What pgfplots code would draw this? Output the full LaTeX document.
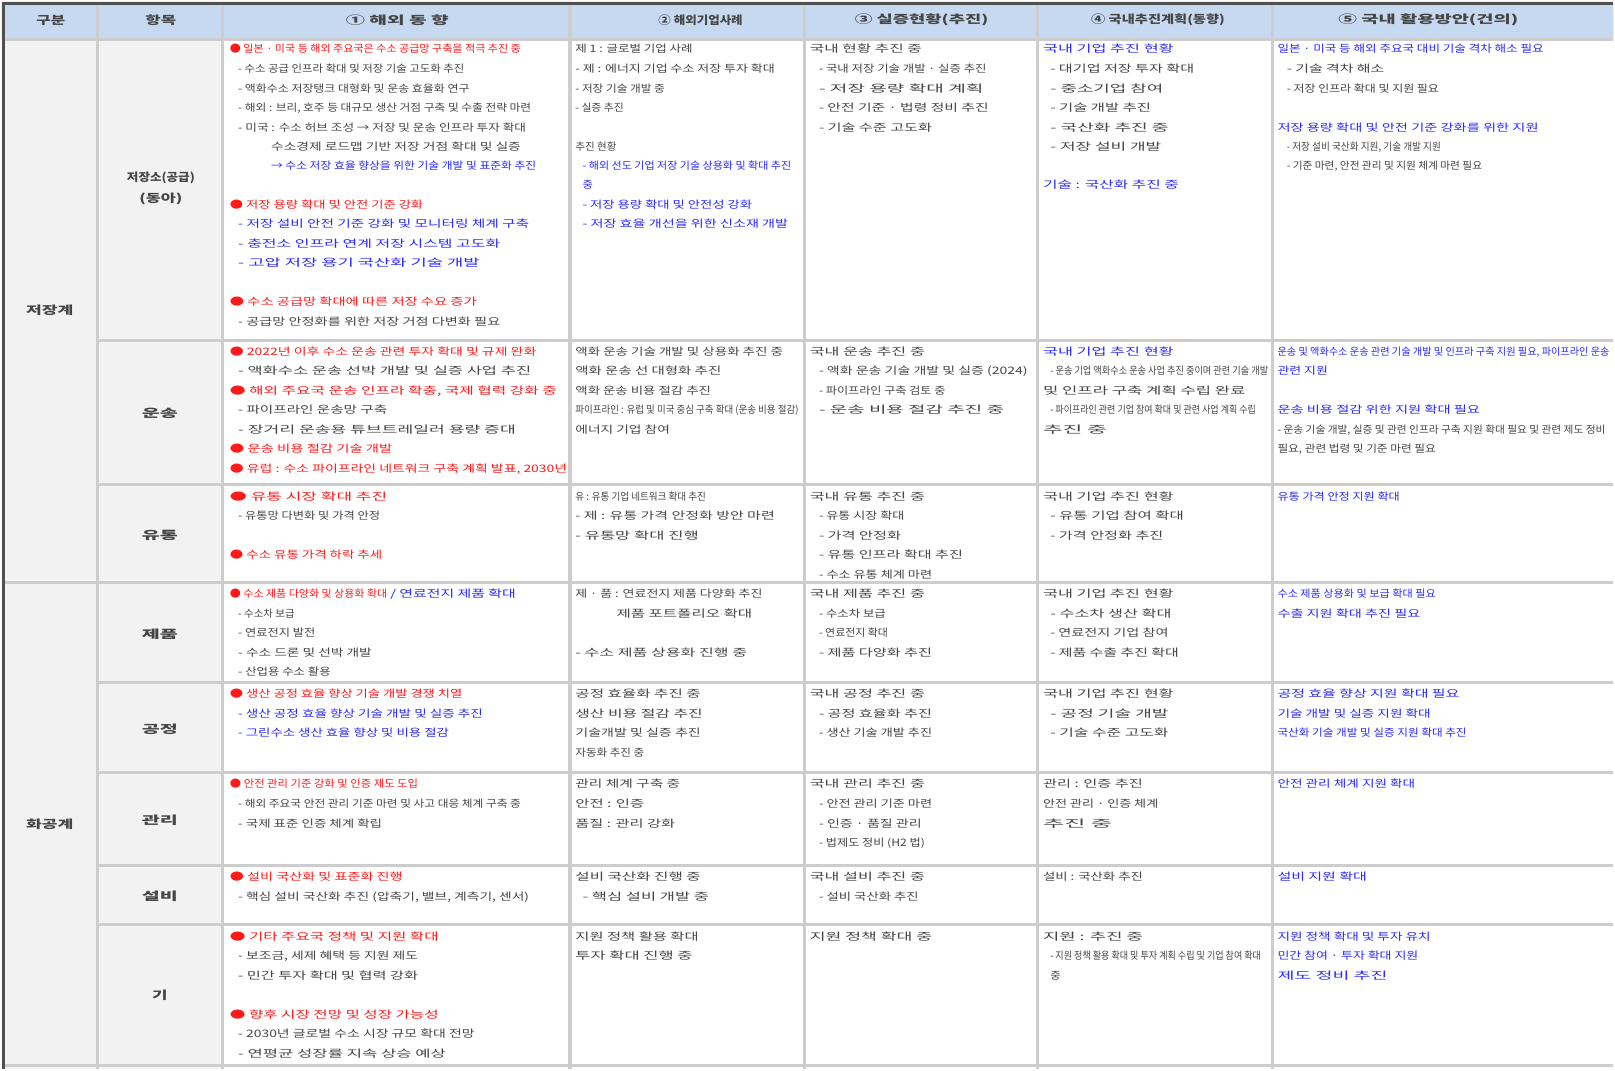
\documentclass[border=0pt]{standalone}
\usepackage{fontspec}
\setmainfont{Noto Sans CJK KR}
\usepackage{graphicx}
\usepackage{pgfplots}
\pgfplotsset{compat=1.18}
\definecolor{hdr}{HTML}{C6D9F1}
\definecolor{side}{HTML}{F2F2F2}
\definecolor{gridc}{HTML}{CDCDCD}
\definecolor{tx}{HTML}{454545}
\definecolor{rd}{HTML}{FF1A1A}
\definecolor{bl}{HTML}{2A2AFF}
\definecolor{bdr}{HTML}{505050}
% text line: x1, y, x2, colour, text
\newcommand\T[5]{\node[anchor=west,inner sep=0pt,text=#4,text height=8pt,text depth=2pt,font=\fontsize{10}{12}\selectfont] at (axis cs:#1,#2) {\resizebox{\dimexpr #3pt-#1pt\relax}{\height}{#5}};}
% centred bold label: xc, y, width, colour, text
\newcommand\C[5]{\node[anchor=center,inner sep=0pt,text=#4,font=\fontsize{11}{13}\selectfont\bfseries] at (axis cs:#1,#2) {\resizebox{#3pt}{\height}{#5}};}
\newcommand\HL[3]{\addplot[gridc,line width=3pt] coordinates {(#1,#3) (#2,#3)};}
\newcommand\VL[3]{\addplot[gridc,line width=3pt] coordinates {(#1,#2) (#1,#3)};}
\newcommand\BOX[5]{\addplot[fill=#5,draw=none] coordinates {(#1,#2) (#3,#2) (#3,#4) (#1,#4) (#1,#2)};}
\begin{document}
\begin{tikzpicture}
\begin{axis}[width=1568pt,height=1038pt,scale only axis,hide axis,
  xmin=0,xmax=1568,ymin=0,ymax=1038,y dir=reverse,clip=false,enlargelimits=false]
% backgrounds
\BOX{0}{0}{1568}{1038}{white}
\BOX{0}{0}{1568}{37}{hdr}
\BOX{0}{37}{215}{1038}{side}
% grid lines
\VL{93}{0}{1038}
\VL{215}{0}{1038}
\VL{553}{0}{1038}
\VL{781}{0}{1038}
\VL{1008}{0}{1038}
\VL{1236}{0}{1038}
\HL{0}{1568}{37}
\HL{93}{1568}{330}
\HL{93}{1568}{470}
\HL{0}{1568}{565}
\HL{93}{1568}{662}
\HL{93}{1568}{750}
\HL{93}{1568}{840}
\HL{93}{1568}{898}
\HL{0}{1568}{1035}
\addplot[bdr,line width=3pt] coordinates {(1.5,1038) (1.5,1.5) (1568,1.5)};
% header
\C{48}{18}{28}{tx}{구분}
\C{155}{18}{30}{tx}{항목}
\C{385}{18}{100}{tx}{① 해외 동 향}
\C{680}{18}{82}{tx}{② 해외기업사례}
\C{895}{18}{130}{tx}{③ 실증현황(추진)}
\C{1125}{18}{130}{tx}{④ 국내추진계획(동향)}
\C{1388}{18}{175}{tx}{⑤ 국내 활용방안(건의)}
% side labels
\C{47}{300}{46}{tx}{저장계}
\C{47}{800}{46}{tx}{화공계}
\C{155}{172}{66}{tx}{저장소(공급)}
\C{155}{192}{42}{tx}{(동아)}
\C{154}{401}{35}{tx}{운송}
\C{154}{519}{35}{tx}{유통}
\C{154}{615}{35}{tx}{제품}
\C{154}{708}{35}{tx}{공정}
\C{154}{796}{35}{tx}{관리}
\C{154}{870}{35}{tx}{설비}
\C{154}{967}{15}{tx}{기}
% ---------------- column 3
\T{222}{47}{505}{rd}{● 일본 · 미국 등 해외 주요국은 수소 공급망 구축을 적극 추진 중}
\T{230}{66}{450}{tx}{- 수소 공급 인프라 확대 및 저장 기술 고도화 추진}
\T{230}{85}{455}{tx}{- 액화수소 저장탱크 대형화 및 운송 효율화 연구}
\T{230}{104}{515}{tx}{- 해외 : 브리, 호주 등 대규모 생산 거점 구축 및 수출 전략 마련}
\T{230}{123}{510}{tx}{- 미국 : 수소 허브 조성 → 저장 및 운송 인프라 투자 확대}
\T{262}{142}{505}{tx}{수소경제 로드맵 기반 저장 거점 확대 및 실증}
\T{262}{160}{520}{bl}{→ 수소 저장 효율 향상을 위한 기술 개발 및 표준화 추진}
\T{222}{198}{410}{rd}{● 저장 용량 확대 및 안전 기준 강화}
\T{230}{217}{513}{bl}{- 저장 설비 안전 기준 강화 및 모니터링 체계 구축}
\T{230}{236}{485}{bl}{- 충전소 인프라 연계 저장 시스템 고도화}
\T{230}{255}{465}{bl}{- 고압 저장 용기 국산화 기술 개발}
\T{222}{293}{462}{rd}{● 수소 공급망 확대에 따른 저장 수요 증가}
\T{230}{312}{485}{tx}{- 공급망 안정화를 위한 저장 거점 다변화 필요}
\T{222}{341}{520}{rd}{● 2022년 이후 수소 운송 관련 투자 확대 및 규제 완화}
\T{230}{360}{515}{tx}{- 액화수소 운송 선박 개발 및 실증 사업 추진}
\T{222}{379}{540}{rd}{● 해외 주요국 운송 인프라 확충, 국제 협력 강화 중}
\T{230}{398}{375}{tx}{- 파이프라인 운송망 구축}
\T{230}{417}{500}{tx}{- 장거리 운송용 튜브트레일러 용량 증대}
\T{222}{436}{380}{rd}{● 운송 비용 절감 기술 개발}
\T{222}{455}{550}{rd}{● 유럽 : 수소 파이프라인 네트워크 구축 계획 발표, 2030년}
\T{222}{482}{375}{rd}{● 유통 시장 확대 추진}
\T{230}{501}{368}{tx}{- 유통망 다변화 및 가격 안정}
\T{222}{539}{370}{rd}{● 수소 유통 가격 하락 추세}
\T{222}{577}{375}{rd}{● 수소 제품 다양화 및 상용화 확대}
\T{378}{577}{500}{bl}{/ 연료전지 제품 확대}
\T{230}{596}{285}{tx}{- 수소차 보급}
\T{230}{615}{305}{tx}{- 연료전지 발전}
\T{230}{634}{360}{tx}{- 수소 드론 및 선박 개발}
\T{230}{653}{320}{tx}{- 산업용 수소 활용}
\T{222}{674}{448}{rd}{● 생산 공정 효율 향상 기술 개발 경쟁 치열}
\T{230}{693}{468}{bl}{- 생산 공정 효율 향상 기술 개발 및 실증 추진}
\T{230}{712}{435}{bl}{- 그린수소 생산 효율 향상 및 비용 절감}
\T{222}{762}{405}{rd}{● 안전 관리 기준 강화 및 인증 제도 도입}
\T{230}{781}{505}{tx}{- 해외 주요국 안전 관리 기준 마련 및 사고 대응 체계 구축 중}
\T{230}{800}{370}{tx}{- 국제 표준 인증 체계 확립}
\T{222}{852}{390}{rd}{● 설비 국산화 및 표준화 진행}
\T{230}{871}{513}{tx}{- 핵심 설비 국산화 추진 (압축기, 밸브, 계측기, 센서)}
\T{222}{910}{425}{rd}{● 기타 주요국 정책 및 지원 확대}
\T{230}{929}{405}{tx}{- 보조금, 세제 혜택 등 지원 제도}
\T{230}{948}{405}{tx}{- 민간 투자 확대 및 협력 강화}
\T{222}{986}{425}{rd}{● 향후 시장 전망 및 성장 가능성}
\T{230}{1005}{460}{tx}{- 2030년 글로벌 수소 시장 규모 확대 전망}
\T{230}{1024}{432}{tx}{- 연평균 성장률 지속 상승 예상}
% ---------------- column 4
\T{558}{47}{672}{tx}{제 1 : 글로벌 기업 사례}
\T{558}{66}{752}{tx}{- 제 : 에너지 기업 수소 저장 투자 확대}
\T{558}{85}{645}{tx}{- 저장 기술 개발 중}
\T{558}{104}{605}{tx}{- 실증 추진}
\T{558}{142}{598}{tx}{추진 현황}
\T{565}{160}{768}{bl}{- 해외 선도 기업 저장 기술 상용화 및 확대 추진}
\T{565}{179}{575}{bl}{중}
\T{565}{198}{730}{bl}{- 저장 용량 확대 및 안전성 강화}
\T{565}{217}{765}{bl}{- 저장 효율 개선을 위한 신소재 개발}
\T{558}{341}{760}{tx}{액화 운송 기술 개발 및 상용화 추진 중}
\T{558}{360}{700}{tx}{액화 운송 선 대형화 추진}
\T{558}{379}{690}{tx}{액화 운송 비용 절감 추진}
\T{558}{398}{775}{tx}{파이프라인 : 유럽 및 미국 중심 구축 확대 (운송 비용 절감)}
\T{558}{417}{650}{tx}{에너지 기업 참여}
\T{558}{482}{685}{tx}{유 : 유통 기업 네트워크 확대 추진}
\T{558}{501}{752}{tx}{- 제 : 유통 가격 안정화 방안 마련}
\T{558}{520}{678}{tx}{- 유통망 확대 진행}
\T{558}{577}{740}{tx}{제 · 품 : 연료전지 제품 다양화 추진}
\T{598}{596}{730}{tx}{제품 포트폴리오 확대}
\T{558}{634}{725}{tx}{- 수소 제품 상용화 진행 중}
\T{558}{674}{680}{tx}{공정 효율화 추진 중}
\T{558}{693}{682}{tx}{생산 비용 절감 추진}
\T{558}{712}{680}{tx}{기술개발 및 실증 추진}
\T{558}{731}{625}{tx}{자동화 추진 중}
\T{558}{762}{660}{tx}{관리 체계 구축 중}
\T{558}{781}{625}{tx}{안전 : 인증}
\T{558}{800}{655}{tx}{품질 : 관리 강화}
\T{558}{852}{680}{tx}{설비 국산화 진행 중}
\T{565}{871}{688}{tx}{- 핵심 설비 개발 중}
\T{558}{910}{678}{tx}{지원 정책 활용 확대}
\T{558}{929}{672}{tx}{투자 확대 진행 중}
% ---------------- column 5
\T{786}{47}{895}{tx}{국내 현황 추진 중}
\T{795}{66}{958}{tx}{- 국내 저장 기술 개발 · 실증 추진}
\T{795}{85}{955}{tx}{- 저장 용량 확대 계획}
\T{795}{104}{960}{tx}{- 안전 기준 · 법령 정비 추진}
\T{795}{123}{905}{tx}{- 기술 수준 고도화}
\T{786}{341}{898}{tx}{국내 운송 추진 중}
\T{795}{360}{998}{tx}{- 액화 운송 기술 개발 및 실증 (2024)}
\T{795}{379}{918}{tx}{- 파이프라인 구축 검토 중}
\T{795}{398}{975}{tx}{- 운송 비용 절감 추진 중}
\T{786}{482}{898}{tx}{국내 유통 추진 중}
\T{795}{501}{878}{tx}{- 유통 시장 확대}
\T{795}{520}{875}{tx}{- 가격 안정화}
\T{795}{539}{935}{tx}{- 유통 인프라 확대 추진}
\T{795}{558}{905}{tx}{- 수소 유통 체계 마련}
\T{786}{577}{898}{tx}{국내 제품 추진 중}
\T{795}{596}{860}{tx}{- 수소차 보급}
\T{795}{615}{862}{tx}{- 연료전지 확대}
\T{795}{634}{905}{tx}{- 제품 다양화 추진}
\T{786}{674}{898}{tx}{국내 공정 추진 중}
\T{795}{693}{905}{tx}{- 공정 효율화 추진}
\T{795}{712}{905}{tx}{- 생산 기술 개발 추진}
\T{786}{762}{898}{tx}{국내 관리 추진 중}
\T{795}{781}{905}{tx}{- 안전 관리 기준 마련}
\T{795}{800}{895}{tx}{- 인증 · 품질 관리}
\T{795}{819}{898}{tx}{- 법제도 정비 (H2 법)}
\T{786}{852}{898}{tx}{국내 설비 추진 중}
\T{795}{871}{892}{tx}{- 설비 국산화 추진}
\T{786}{910}{905}{tx}{지원 정책 확대 중}
% ---------------- column 6
\T{1013}{47}{1140}{bl}{국내 기업 추진 현황}
\T{1020}{66}{1160}{tx}{- 대기업 저장 투자 확대}
\T{1020}{85}{1130}{tx}{- 중소기업 참여}
\T{1020}{104}{1118}{tx}{- 기술 개발 추진}
\T{1020}{123}{1135}{tx}{- 국산화 추진 중}
\T{1020}{142}{1128}{tx}{- 저장 설비 개발}
\T{1013}{179}{1145}{bl}{기술 : 국산화 추진 중}
\T{1013}{341}{1140}{bl}{국내 기업 추진 현황}
\T{1020}{360}{1232}{tx}{- 운송 기업 액화수소 운송 사업 추진 중이며 관련 기술 개발}
\T{1013}{379}{1210}{tx}{및 인프라 구축 계획 수립 완료}
\T{1020}{398}{1220}{tx}{- 파이프라인 관련 기업 참여 확대 및 관련 사업 계획 수립}
\T{1013}{417}{1075}{tx}{추진 중}
\T{1013}{482}{1140}{tx}{국내 기업 추진 현황}
\T{1020}{501}{1150}{tx}{- 유통 기업 참여 확대}
\T{1020}{520}{1130}{tx}{- 가격 안정화 추진}
\T{1013}{577}{1140}{tx}{국내 기업 추진 현황}
\T{1020}{596}{1138}{tx}{- 수소차 생산 확대}
\T{1020}{615}{1135}{tx}{- 연료전지 기업 참여}
\T{1020}{634}{1145}{tx}{- 제품 수출 추진 확대}
\T{1013}{674}{1140}{tx}{국내 기업 추진 현황}
\T{1020}{693}{1135}{tx}{- 공정 기술 개발}
\T{1020}{712}{1135}{tx}{- 기술 수준 고도화}
\T{1013}{762}{1110}{tx}{관리 : 인증 추진}
\T{1013}{781}{1125}{tx}{안전 관리 · 인증 체계}
\T{1013}{800}{1080}{tx}{추진 중}
\T{1013}{852}{1110}{tx}{설비 : 국산화 추진}
\T{1013}{910}{1110}{tx}{지원 : 추진 중}
\T{1020}{929}{1225}{tx}{- 지원 정책 활용 확대 및 투자 계획 수립 및 기업 참여 확대}
\T{1020}{948}{1030}{tx}{중}
% ---------------- column 7
\T{1241}{47}{1500}{bl}{일본 · 미국 등 해외 주요국 대비 기술 격차 해소 필요}
\T{1250}{66}{1345}{tx}{- 기술 격차 해소}
\T{1250}{85}{1398}{tx}{- 저장 인프라 확대 및 지원 필요}
\T{1241}{123}{1495}{bl}{저장 용량 확대 및 안전 기준 강화를 위한 지원}
\T{1250}{142}{1400}{tx}{- 저장 설비 국산화 지원, 기술 개발 지원}
\T{1250}{160}{1440}{tx}{- 기준 마련, 안전 관리 및 지원 체계 마련 필요}
\T{1241}{341}{1564}{bl}{운송 및 액화수소 운송 관련 기술 개발 및 인프라 구축 지원 필요, 파이프라인 운송}
\T{1241}{360}{1290}{bl}{관련 지원}
\T{1241}{398}{1438}{bl}{운송 비용 절감 위한 지원 확대 필요}
\T{1241}{417}{1560}{tx}{- 운송 기술 개발, 실증 및 관련 인프라 구축 지원 확대 필요 및 관련 제도 정비}
\T{1241}{436}{1395}{tx}{필요, 관련 법령 및 기준 마련 필요}
\T{1241}{482}{1360}{bl}{유통 가격 안정 지원 확대}
\T{1241}{577}{1395}{bl}{수소 제품 상용화 및 보급 확대 필요}
\T{1241}{596}{1380}{bl}{수출 지원 확대 추진 필요}
\T{1241}{674}{1418}{bl}{공정 효율 향상 지원 확대 필요}
\T{1241}{693}{1390}{bl}{기술 개발 및 실증 지원 확대}
\T{1241}{712}{1425}{bl}{국산화 기술 개발 및 실증 지원 확대 추진}
\T{1241}{762}{1375}{bl}{안전 관리 체계 지원 확대}
\T{1241}{852}{1328}{bl}{설비 지원 확대}
\T{1241}{910}{1390}{bl}{지원 정책 확대 및 투자 유치}
\T{1241}{929}{1378}{bl}{민간 참여 · 투자 확대 지원}
\T{1241}{948}{1348}{bl}{제도 정비 추진}
\end{axis}
\end{tikzpicture}
\end{document}
